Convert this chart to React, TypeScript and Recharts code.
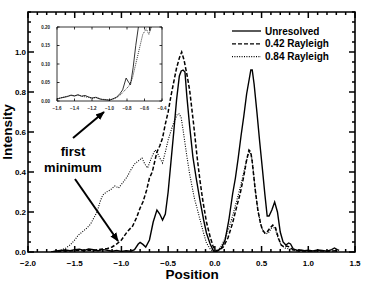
import React from 'react';
import { LineChart, Line, XAxis, YAxis, ReferenceArea } from 'recharts';

const seriesNames = ['Unresolved', '0.42 Rayleigh', '0.84 Rayleigh'];

// main panel
const unresolvedPos = [-1.75, -1.7, -1.65, -1.6, -1.55, -1.5, -1.45, -1.4, -1.35, -1.3, -1.25, -1.2, -1.15, -1.1, -1.05, -1.0, -0.95, -0.9,
  -0.86, -0.82, -0.8, -0.77, -0.74, -0.7, -0.66, -0.62, -0.59, -0.56, -0.53, -0.5,
  -0.47, -0.44, -0.41, -0.38, -0.36, -0.34, -0.32, -0.3, -0.27, -0.235,
  -0.2, -0.16, -0.12, -0.09, -0.05, -0.02, 0,
  0.03, 0.07, 0.11, 0.15, 0.19, 0.22, 0.25, 0.28, 0.31, 0.34, 0.37, 0.385, 0.4,
  0.42, 0.45, 0.48, 0.51, 0.535, 0.56, 0.58, 0.61, 0.64, 0.67, 0.7, 0.73, 0.76, 0.79, 0.81, 0.84, 0.88,
  0.92, 0.96, 1.0, 1.05, 1.1, 1.15, 1.2, 1.25, 1.28, 1.31, 1.33];
const unresolvedInt = [0, 0.005, 0.008, 0.01, 0.006, 0.012, 0.014, 0.008, 0.015, 0.011, 0.006, 0.012, 0.009, 0.004, 0.008, 0.003, 0.006, 0.004,
  0.012, 0.04, 0.048, 0.038, 0.025, 0.06, 0.15, 0.21, 0.19, 0.16, 0.19, 0.3,
  0.45, 0.6, 0.76, 0.88, 0.905, 0.91, 0.9, 0.78, 0.63, 0.475,
  0.37, 0.26, 0.16, 0.095, 0.04, 0.01, 0,
  0.006, 0.02, 0.06, 0.16, 0.29, 0.37, 0.47, 0.58, 0.68, 0.79, 0.87, 0.91, 0.91,
  0.84, 0.7, 0.55, 0.41, 0.29, 0.18, 0.18, 0.21, 0.25, 0.2, 0.1, 0.05, 0.035, 0.045, 0.04, 0.015, 0.008,
  0.01, 0.006, 0.009, 0.005, 0.01, 0.008, 0.004, 0.012, 0.02, 0.012, 0.008];

const r042Pos = [-1.75, -1.65, -1.55, -1.45, -1.4, -1.35, -1.3, -1.25, -1.2, -1.15,
  -1.1, -1.05, -1.0, -0.94, -0.88, -0.84, -0.8, -0.77, -0.73, -0.7,
  -0.67, -0.64, -0.62, -0.59, -0.56, -0.53, -0.5, -0.47, -0.44, -0.41,
  -0.38, -0.355, -0.33, -0.3, -0.27, -0.23, -0.19, -0.16, -0.13, -0.09,
  -0.05, -0.02, 0, 0.02, 0.05, 0.09, 0.14, 0.19, 0.23, 0.27,
  0.31, 0.34, 0.365, 0.385, 0.4, 0.43, 0.46, 0.49, 0.51, 0.535,
  0.56, 0.59, 0.62, 0.65, 0.68, 0.71, 0.74, 0.77, 0.8, 0.84,
  0.9, 1.0, 1.1, 1.2, 1.3];
const r042Int = [0, 0.004, 0.006, 0.008, 0.006, 0.01, 0.008, 0.012, 0.015, 0.018,
  0.025, 0.04, 0.06, 0.1, 0.13, 0.17, 0.22, 0.25, 0.31, 0.37,
  0.4, 0.46, 0.5, 0.53, 0.57, 0.64, 0.7, 0.78, 0.85, 0.92,
  0.97, 1.0, 0.96, 0.89, 0.81, 0.65, 0.475, 0.36, 0.26, 0.15,
  0.075, 0.03, 0.012, 0.006, 0.01, 0.025, 0.07, 0.145, 0.22, 0.29,
  0.38, 0.46, 0.51, 0.5, 0.45, 0.32, 0.21, 0.14, 0.11, 0.095,
  0.1, 0.12, 0.135, 0.12, 0.07, 0.035, 0.025, 0.03, 0.025, 0.01,
  0.006, 0.004, 0.006, 0.004, 0.006];

const r084Pos = [-1.75, -1.7, -1.65, -1.6, -1.55, -1.5, -1.46, -1.42, -1.37, -1.33,
  -1.29, -1.26, -1.23, -1.2, -1.16, -1.12, -1.07, -1.03, -0.98, -0.94,
  -0.9, -0.86, -0.82, -0.78, -0.75, -0.72, -0.68, -0.64, -0.62, -0.59,
  -0.56, -0.53, -0.5, -0.46, -0.43, -0.4, -0.38, -0.36, -0.34, -0.3,
  -0.27, -0.22, -0.18, -0.13, -0.09, -0.05, -0.02, 0, 0.03, 0.07,
  0.11, 0.15, 0.19, 0.23, 0.27, 0.31, 0.34, 0.37, 0.385, 0.4,
  0.43, 0.46, 0.49, 0.52, 0.55, 0.58, 0.62, 0.65, 0.68, 0.71,
  0.75, 0.8, 0.85, 0.9];
const r084Int = [0, 0.004, 0.01, 0.018, 0.035, 0.06, 0.085, 0.1, 0.12, 0.14,
  0.175, 0.2, 0.25, 0.285, 0.3, 0.31, 0.33, 0.32, 0.35, 0.375,
  0.41, 0.44, 0.455, 0.47, 0.44, 0.42, 0.47, 0.51, 0.5, 0.47,
  0.445, 0.5, 0.56, 0.62, 0.66, 0.69, 0.69, 0.67, 0.61, 0.48,
  0.39, 0.27, 0.2, 0.11, 0.045, 0.015, 0.003, 0, 0.008, 0.03,
  0.07, 0.12, 0.18, 0.25, 0.32, 0.4, 0.46, 0.5, 0.49, 0.46,
  0.32, 0.21, 0.14, 0.1, 0.09, 0.1, 0.13, 0.11, 0.065, 0.035,
  0.02, 0.015, 0.008, 0.004];

// inset: close-up of the first minimum
const insetSolidPos = [-1.6, -1.56, -1.52, -1.48, -1.44, -1.4, -1.36, -1.32, -1.28, -1.24,
  -1.2, -1.16, -1.12, -1.08, -1.04, -1.0, -0.96, -0.92, -0.88, -0.85,
  -0.81, -0.78, -0.76, -0.73, -0.7, -0.67, -0.64, -0.6, -0.56, -0.54, -0.51, -0.48];
const insetSolidInt = [0.005, 0.008, 0.01, 0.012, 0.016, 0.014, 0.017, 0.013, 0.015, 0.011,
  0.008, 0.01, 0.006, 0.004, 0.003, 0.002, 0.006, 0.01, 0.02, 0.03,
  0.062, 0.05, 0.044, 0.09, 0.15, 0.2, 0.26, 0.28, 0.24, 0.19, 0.24, 0.3];
const insetDotPos = [-1.6, -1.5, -1.44, -1.4, -1.36, -1.3, -1.24, -1.2, -1.14, -1.1,
  -1.04, -1.0, -0.95, -0.9, -0.86, -0.82, -0.78, -0.74, -0.7, -0.66,
  -0.62, -0.58, -0.55, -0.52, -0.48];
const insetDotInt = [0.006, 0.012, 0.015, 0.013, 0.016, 0.012, 0.01, 0.007, 0.01, 0.005,
  0.004, 0.003, 0.006, 0.012, 0.02, 0.03, 0.04, 0.06, 0.1, 0.14,
  0.18, 0.195, 0.18, 0.2, 0.25];

const xMajor = [-2, -1.5, -1, -0.5, 0, 0.5, 1, 1.5];
const yMajor = [0, 0.2, 0.4, 0.6, 0.8, 1.0];
const insetXTicks = [-1.6, -1.4, -1.2, -1.0, -0.8, -0.6, -0.4];
const insetYTicks = [0, 0.05, 0.1, 0.15, 0.2];

const xMinor = Array.from({ length: 36 }, (_, i) => (i - 20) / 10);
const yMinor = Array.from({ length: 25 }, (_, i) => i / 20);

const pts = (xs: number[], ys: number[]) => xs.map((x, i) => ({ x, y: ys[i] }));

const FONT = '"Liberation Sans", Arial, Helvetica, sans-serif';
const fmt = (v: number, d: number) => v.toFixed(d).replace('-', '\u2212');

type Side = 'bottom' | 'top' | 'left' | 'right';

function makeTick(side: Side, majors: number[], big: number, small: number, w: number, label?: { size: number; off: number; dec: number; fill?: string }) {
  return (props: any) => {
    const { x, y, payload } = props;
    const v = payload.value;
    const isMajor = majors.some((m) => Math.abs(m - v) < 1e-6);
    const len = isMajor ? big : small;
    let d = '';
    if (side === 'bottom') d = `M${x},${y}V${y - len}`;
    else if (side === 'top') d = `M${x},${y}V${y + len}`;
    else if (side === 'left') d = `M${x},${y}H${x + len}`;
    else d = `M${x},${y}H${x - len}`;
    let text = null;
    if (label && isMajor) {
      const common = { fontFamily: FONT, fontSize: label.size, fontWeight: 700, fill: label.fill || '#000', stroke: 'none' };
      if (side === 'bottom') text = <text x={x} y={y + label.off} textAnchor="middle" {...common}>{fmt(v, label.dec)}</text>;
      if (side === 'left') text = <text x={x - label.off} y={y + label.size * 0.36} textAnchor="end" {...common}>{fmt(v, label.dec)}</text>;
    }
    return <g><path d={d} stroke="#000" strokeWidth={w} fill="none" />{text}</g>;
  };
}

export default function App() {
  return (
    <div style={{ position: 'absolute', left: 0, top: 0, width: 382, height: 281, background: '#fff' }}>
      <LineChart width={382} height={281} margin={{ top: 11, right: 26, bottom: 0, left: 0 }}>
        <XAxis xAxisId="main" type="number" dataKey="x" domain={[-2, 1.5]} allowDataOverflow ticks={xMinor} interval={0}
          height={29} tickSize={0} tickMargin={0} axisLine={false}
          tick={makeTick('bottom', xMajor, 6, 3, 1.5, { size: 8, off: 14, dec: 1 })} />
        <XAxis xAxisId="top" orientation="top" type="number" dataKey="x" domain={[-2, 1.5]} allowDataOverflow ticks={xMinor} interval={0}
          height={1} tickSize={0} tickMargin={0} axisLine={false}
          tick={makeTick('top', xMajor, 6, 3, 1.5)} />
        <YAxis yAxisId="main" type="number" domain={[0, 1.2]} allowDataOverflow ticks={yMinor} interval={0}
          width={28} tickSize={0} tickMargin={0} axisLine={false}
          tick={makeTick('left', yMajor, 6, 3, 1.5, { size: 8, off: 2, dec: 1 })} />
        <YAxis yAxisId="right" orientation="right" type="number" domain={[0, 1.2]} allowDataOverflow ticks={yMinor} interval={0}
          width={1} tickSize={0} tickMargin={0} axisLine={false}
          tick={makeTick('right', yMajor, 6, 3, 1.5)} />
        <ReferenceArea xAxisId="main" yAxisId="main" x1={-2} x2={1.5} y1={0} y2={1.2} fill="none" fillOpacity={0}
          stroke="#000" strokeWidth={1.6} ifOverflow="visible" />
        <Line xAxisId="main" yAxisId="main" data={pts(r084Pos, r084Int)} dataKey="y" name={seriesNames[2]} type="linear"
          stroke="#000" strokeWidth={1.1} strokeDasharray="1 1.4" dot={false} isAnimationActive={false} />
        <Line xAxisId="main" yAxisId="main" data={pts(r042Pos, r042Int)} dataKey="y" name={seriesNames[1]} type="linear"
          stroke="#000" strokeWidth={1.5} strokeDasharray="4 2" dot={false} isAnimationActive={false} />
        <Line xAxisId="main" yAxisId="main" data={pts(unresolvedPos, unresolvedInt)} dataKey="y" name={seriesNames[0]} type="linear"
          stroke="#000" strokeWidth={1.4} dot={false} isAnimationActive={false} />
      </LineChart>

      <div style={{ position: 'absolute', left: 35, top: 20 }}>
        <LineChart width={132} height={92} margin={{ top: 6, right: 4, bottom: 0, left: 0 }}>
          <XAxis xAxisId="b" type="number" dataKey="x" domain={[-1.6, -0.4]} allowDataOverflow ticks={insetXTicks} interval={0}
            height={11} tickSize={0} tickMargin={0} axisLine={false}
            tick={makeTick('bottom', insetXTicks, 2.5, 2.5, 0.8, { size: 4.5, off: 8.5, dec: 1, fill: '#222' })} />
          <XAxis xAxisId="t" orientation="top" type="number" dataKey="x" domain={[-1.6, -0.4]} allowDataOverflow ticks={insetXTicks} interval={0}
            height={1} tickSize={0} tickMargin={0} axisLine={false}
            tick={makeTick('top', insetXTicks, 2.5, 2.5, 0.8)} />
          <YAxis yAxisId="l" type="number" domain={[0, 0.2]} allowDataOverflow ticks={insetYTicks} interval={0}
            width={22} tickSize={0} tickMargin={0} axisLine={false}
            tick={makeTick('left', insetYTicks, 2.5, 2.5, 0.8, { size: 4.5, off: 7, dec: 2, fill: '#222' })} />
          <YAxis yAxisId="r" orientation="right" type="number" domain={[0, 0.2]} allowDataOverflow ticks={insetYTicks} interval={0}
            width={1} tickSize={0} tickMargin={0} axisLine={false}
            tick={makeTick('right', insetYTicks, 2.5, 2.5, 0.8)} />
          <ReferenceArea xAxisId="b" yAxisId="l" x1={-1.6} x2={-0.4} y1={0} y2={0.2} fill="none" fillOpacity={0}
            stroke="#000" strokeWidth={0.8} ifOverflow="visible" />
          <Line xAxisId="b" yAxisId="l" data={pts(insetDotPos, insetDotInt)} dataKey="y" type="linear"
            stroke="#000" strokeWidth={0.8} strokeDasharray="1 1" dot={false} isAnimationActive={false} />
          <Line xAxisId="b" yAxisId="l" data={pts(insetSolidPos, insetSolidInt)} dataKey="y" type="linear"
            stroke="#000" strokeWidth={0.8} dot={false} isAnimationActive={false} />
        </LineChart>
      </div>

      <svg width={382} height={281} style={{ position: 'absolute', left: 0, top: 0, pointerEvents: 'none' }}>
        <defs>
          <marker id="head" viewBox="0 0 10 10" refX="9" refY="5" markerWidth="4.5" markerHeight="4.5" orient="auto">
            <path d="M0,1 L10,5 L0,9 z" fill="#000" />
          </marker>
        </defs>
        <text transform="translate(12,132) rotate(-90)" textAnchor="middle" fontFamily={FONT} fontSize={13.5} fontWeight={700}>Intensity</text>
        <text x={192} y={279} textAnchor="middle" fontFamily={FONT} fontSize={13.5} fontWeight={700}>Position</text>

        {seriesNames.map((name, i) => (
          <g key={name}>
            <line x1={232} x2={261} y1={31 + i * 12.8} y2={31 + i * 12.8} stroke="#000"
              strokeWidth={i === 2 ? 1.1 : 1.3} strokeDasharray={i === 0 ? undefined : i === 1 ? '4 2' : '1 1.4'} />
            <text x={265} y={34.5 + i * 12.8} fontFamily={FONT} fontSize={10} fontWeight={700}>{name}</text>
          </g>
        ))}

        <text x={73} y={156} textAnchor="middle" fontFamily={FONT} fontSize={13} fontWeight={700}>first</text>
        <text x={73} y={172} textAnchor="middle" fontFamily={FONT} fontSize={13} fontWeight={700}>minimum</text>
        <line x1={73} y1={138} x2={104} y2={112} stroke="#000" strokeWidth={2} markerEnd="url(#head)" />
        <line x1={75} y1={179} x2={118} y2={241} stroke="#000" strokeWidth={2} markerEnd="url(#head)" />
      </svg>
    </div>
  );
}
